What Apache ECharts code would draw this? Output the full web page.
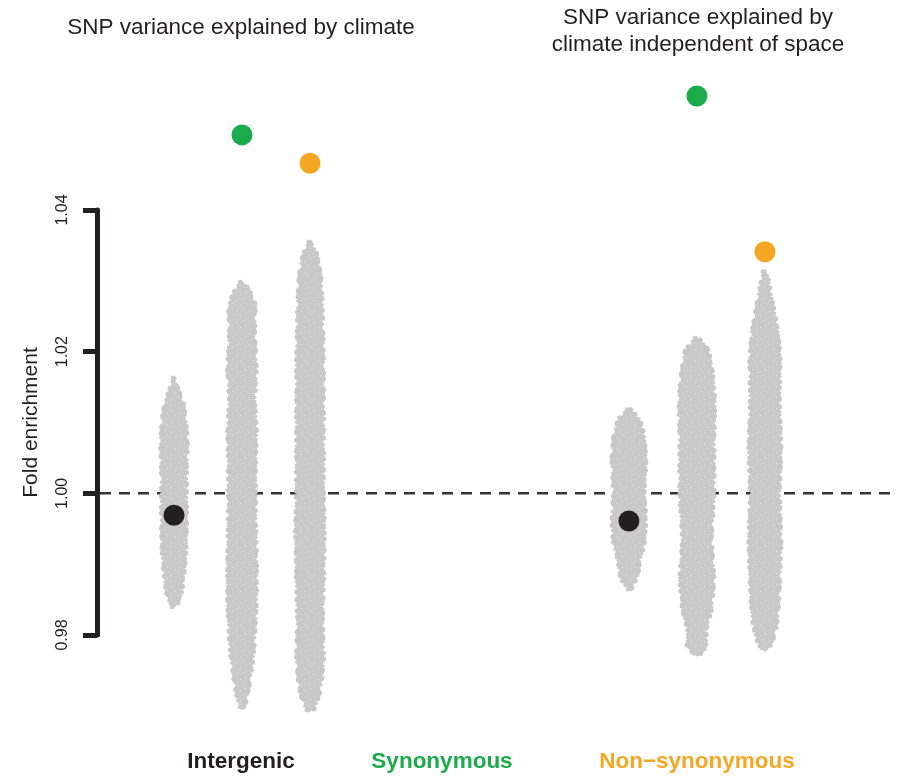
<!DOCTYPE html>
<html>
<head>
<meta charset="utf-8">
<script src="https://cdn.jsdelivr.net/npm/echarts@6/dist/echarts.min.js"></script>
<style>
  html, body { margin: 0; padding: 0; background: #fff; }
  #fold { width: 901px; height: 776px; }
</style>
</head>
<body>
<div id="fold"></div>
<script>
// panels and SNP classes
const panels = ["SNP variance explained by climate", "SNP variance explained by\nclimate independent of space"];
const classes = ["Intergenic", "Synonymous", "Non\u2212synonymous"];
const classColors = ["#231f20", "#1aab4b", "#f5a623"];

// observed fold enrichment, one value per class
const observedClimate = [0.9969, 1.0506, 1.0466];
const observedIndependent = [0.9961, 1.0561, 1.0341];

const yTicks = [0.98, 1.00, 1.02, 1.04];
const baseline = 1.0;

// null distributions (gray clouds) read as profiles: [fold enrichment, relative spread]
const nullClimateIntergenic = [
  [1.0163, 0.07], [1.0146, 0.33], [1.0125, 0.73], [1.0104, 0.87], [1.0075, 1.0],
  [1.0033, 0.93], [0.9991, 0.93], [0.9948, 0.93], [0.9913, 0.87], [0.9885, 0.73],
  [0.9864, 0.6], [0.9849, 0.4], [0.9840, 0.13]
];
const nullClimateSynonymous = [
  [1.0298, 0.13], [1.0287, 0.53], [1.0266, 1.0], [1.0231, 0.93], [1.0174, 1.07],
  [1.0132, 0.93], [1.0089, 1.07], [1.0047, 1.0], [1.0001, 1.0], [0.9962, 1.0],
  [0.9906, 1.07], [0.9849, 1.07], [0.9793, 0.93], [0.9765, 0.8], [0.9737, 0.6],
  [0.9715, 0.4], [0.9698, 0.2]
];
const nullClimateNonsyn = [
  [1.0355, 0.07], [1.0337, 0.53], [1.0308, 0.8], [1.0287, 0.87], [1.0245, 0.93],
  [1.0188, 1.0], [1.0132, 1.0], [1.0075, 1.0], [1.0001, 1.0], [0.9948, 1.07],
  [0.9878, 1.0], [0.9821, 0.93], [0.9765, 1.0], [0.9737, 0.87], [0.9715, 0.67],
  [0.9694, 0.27]
];
const nullIndepIntergenic = [
  [1.0118, 0.13], [1.0104, 0.8], [1.0082, 1.13], [1.0047, 1.27], [1.0001, 1.13],
  [0.9962, 1.27], [0.9927, 1.13], [0.9906, 0.8], [0.9885, 0.67], [0.9871, 0.33],
  [0.9864, 0.13]
];
const nullIndepSynonymous = [
  [1.0219, 0.13], [1.0202, 0.87], [1.0174, 1.13], [1.0132, 1.33], [1.0075, 1.27],
  [1.0001, 1.27], [0.9934, 1.07], [0.9878, 1.27], [0.9835, 1.07], [0.9807, 0.67],
  [0.9786, 0.73], [0.9772, 0.2]
];
const nullIndepNonsyn = [
  [1.0313, 0.13], [1.0273, 0.53], [1.0224, 1.0], [1.0188, 1.13], [1.0132, 1.07],
  [1.0061, 1.2], [1.0001, 1.07], [0.9934, 1.2], [0.9864, 1.07], [0.9821, 0.93],
  [0.9793, 0.6], [0.9779, 0.2]
];

const nullClouds = [
  [nullClimateIntergenic, nullClimateSynonymous, nullClimateNonsyn],
  [nullIndepIntergenic, nullIndepSynonymous, nullIndepNonsyn]
];

// layout helpers
const PANEL_GAP = 6.69;   // x units between the first class of each panel
const SPREAD_PX = 13.5;   // half width of the jitter
const X_MIN = -77 / 68, X_MAX = 727 / 68;
const FONT = "Liberation Sans, Arial, Helvetica, sans-serif";
const xOf = (p, k) => p * PANEL_GAP + k;

let cloudItems = [];
nullClouds.forEach((group, p) => {
  group.forEach((prof, k) => cloudItems.push([xOf(p, k), 1, p * 3 + k]));
});
const cloudProfiles = nullClouds[0].concat(nullClouds[1]);

// small speckled tile so the clouds read as packed points
const speckle = (function() {
  const c = document.createElement("canvas");
  c.width = 13; c.height = 11;
  const g = c.getContext("2d");
  g.fillStyle = "#c9c9c9";
  g.fillRect(0, 0, 13, 11);
  g.fillStyle = "rgba(255,255,255,0.55)";
  g.fillRect(2, 3, 1, 1);
  g.fillRect(9, 1, 1, 1);
  g.fillRect(6, 8, 1, 1);
  g.fillRect(11, 6, 1, 1);
  return c;
})();

// the dashed no-enrichment line goes first so the clouds cover it
const renderBaseline = function(params, api) {
  const a = api.coord([X_MIN, baseline]);
  const b = api.coord([X_MAX, baseline]);
  return {
    type: "line",
    z2: 0,
    shape: { x1: a[0] + 3, y1: a[1], x2: b[0] - 3, y2: b[1] },
    style: { stroke: "#333", lineWidth: 2.5, lineDash: [11, 8] }
  };
};

const renderCloud = function(params, api) {
  const prof = cloudProfiles[api.value(2)];
  const x = api.value(0);
  let left = [], right = [];
  prof.forEach(([v, w]) => {
    const pt = api.coord([x, v]);
    left.push([pt[0] - w * SPREAD_PX, pt[1]]);
    right.push([pt[0] + w * SPREAD_PX, pt[1]]);
  });
  const pts = left.concat(right.reverse());
  return {
    type: "group",
    children: [
      {
        type: "polygon",
        z2: 10,
        shape: { points: pts },
        style: { fill: { type: "pattern", image: speckle, repeat: "repeat" } }
      },
      {
        // ragged edge of the jittered points
        type: "polygon",
        z2: 11,
        shape: { points: pts },
        style: {
          fill: null, stroke: "#c6c6c6", lineWidth: 5,
          lineDash: [0, 11, 0, 6, 0, 15, 0, 8], lineCap: "round"
        }
      },
      {
        type: "polygon",
        z2: 12,
        shape: { points: pts },
        style: {
          fill: null, stroke: "#c9c9c9", lineWidth: 3.5,
          lineDash: [0, 4, 0, 7, 0, 5, 0, 3], lineCap: "round"
        }
      }
    ]
  };
};

let chart = echarts.init(document.getElementById("fold"));
chart.setOption({
  animation: false,
  title: [
    {
      text: panels[0], left: 241, top: 16, padding: 0, textAlign: "center",
      textStyle: { fontFamily: FONT, fontSize: 22.5, fontWeight: "normal", color: "#231f20" }
    },
    {
      text: panels[1], left: 698, top: 4, padding: 0, textAlign: "center",
      textStyle: { fontFamily: FONT, fontSize: 22.5, fontWeight: "normal", color: "#231f20", lineHeight: 27 }
    }
  ],
  graphic: classes.map((c, k) => ({
    type: "text",
    x: [241, 442, 697][k],
    y: 762,
    style: {
      text: c, fill: classColors[k], font: "bold 22.5px " + FONT,
      align: "center", verticalAlign: "middle"
    }
  })),
  grid: { left: 97, right: 0, top: 210, bottom: 141 },
  xAxis: {
    type: "value",
    min: X_MIN,
    max: X_MAX,
    show: false
  },
  yAxis: {
    type: "value",
    min: yTicks[0],
    max: yTicks[yTicks.length - 1],
    interval: 0.02,
    name: "Fold enrichment",
    nameLocation: "middle",
    nameGap: 55,
    nameRotate: 90,
    nameTextStyle: { fontFamily: FONT, fontSize: 21, color: "#231f20" },
    axisLine: { show: true, onZero: false, lineStyle: { color: "#231f20", width: 5 } },
    axisTick: { show: true, length: 14, lineStyle: { color: "#231f20", width: 5 } },
    axisLabel: {
      rotate: 90, margin: 26, fontFamily: FONT, fontSize: 16, color: "#231f20",
      formatter: v => v.toFixed(2)
    },
    splitLine: { show: false }
  },
  series: [
    {
      type: "custom",
      z: 2,
      clip: false,
      silent: true,
      renderItem: function(params, api) {
        // item 0 is the baseline, the rest are the null clouds
        return api.value(2) < 0 ? renderBaseline(params, api) : renderCloud(params, api);
      },
      encode: { x: 0, y: 1 },
      data: [[0, baseline, -1]].concat(cloudItems)
    }
  ].concat(classes.map((c, k) => ({
    name: c,
    type: "scatter",
    z: 3,
    clip: false,
    symbolSize: 21,
    itemStyle: { color: classColors[k], opacity: 1 },
    data: [[xOf(0, k), observedClimate[k]], [xOf(1, k), observedIndependent[k]]]
  })))
});
</script>
</body>
</html>
